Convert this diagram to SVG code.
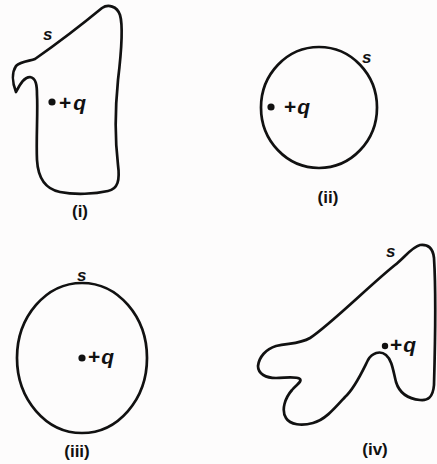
<svg xmlns="http://www.w3.org/2000/svg" width="437" height="464" viewBox="0 0 437 464">
<style>
.shape{fill:none;stroke:#111;stroke-width:2.7;stroke-linejoin:round}
.s{font-family:"Liberation Sans",Arial,sans-serif;font-weight:bold;font-style:italic;font-size:17px;fill:#111}
.q{font-family:"Liberation Sans",Arial,sans-serif;font-weight:bold;font-size:21px;fill:#111}
.q tspan{font-style:italic}
.lbl{font-family:"Liberation Sans",Arial,sans-serif;font-weight:bold;font-size:17px;fill:#111;text-anchor:middle}
.dot{fill:#111}
</style>
<rect width="437" height="464" fill="#fdfcfc"/>
<g id="fig-i">
<path class="shape" d="M35,59 C55,45 85,22 102,8 C108,4 117,6 120,15 C123,25 121,55 118,80 C115,110 115,140 118,165 C120,180 118,189 108,191 C95,194 75,195 60,192 C45,189 38,178 37,160 C36,140 38,110 37,95 C37,85 36,78 30,77 C24,77 20,84 16,92 C12,82 12,72 16,66 C21,61 30,61 35,59 Z"/>
<text class="s" x="43" y="40">s</text>
<circle class="dot" cx="52" cy="102" r="3.6"/>
<text class="q" x="59" y="110" letter-spacing="2">+<tspan>q</tspan></text>
<text class="lbl" x="80" y="217">(i)</text>
</g>
<g id="fig-ii">
<ellipse class="shape" cx="319" cy="107.5" rx="58" ry="60.5"/>
<text class="s" x="362" y="63">s</text>
<circle class="dot" cx="271" cy="107" r="3.6"/>
<text class="q" x="284" y="114" font-size="20" letter-spacing="1">+<tspan>q</tspan></text>
<text class="lbl" x="328" y="203">(ii)</text>
</g>
<g id="fig-iii">
<ellipse class="shape" cx="82" cy="358" rx="65" ry="75"/>
<text class="s" x="77" y="281">s</text>
<circle class="dot" cx="82" cy="358" r="3.6"/>
<text class="q" x="88" y="364" font-size="20" letter-spacing="1">+<tspan>q</tspan></text>
<text class="lbl" x="77" y="457">(iii)</text>
</g>
<g id="fig-iv">
<path class="shape" d="M420,245 C428,244 433,248 434,258 C436,290 435,350 434,385 C433,397 428,401 420,400 C410,399 400,395 396,382 C393,370 392,360 386,355 C380,350 372,353 368,360 C362,372 355,388 345,397 C335,408 325,420 313,423 C302,426 290,425 286,418 C281,410 285,398 292,390 C297,384 302,382 300,379 C296,376 285,378 276,378 C266,378 258,374 258,366 C259,357 266,349 276,346 C290,343 300,344 310,338 C330,325 370,285 395,265 C405,257 412,247 420,245 Z"/>
<text class="s" x="386" y="257">s</text>
<circle class="dot" cx="385" cy="346" r="3.2"/>
<text class="q" x="390" y="352" font-size="19" letter-spacing="1">+<tspan>q</tspan></text>
<text class="lbl" x="375" y="455">(iv)</text>
</g>
</svg>
